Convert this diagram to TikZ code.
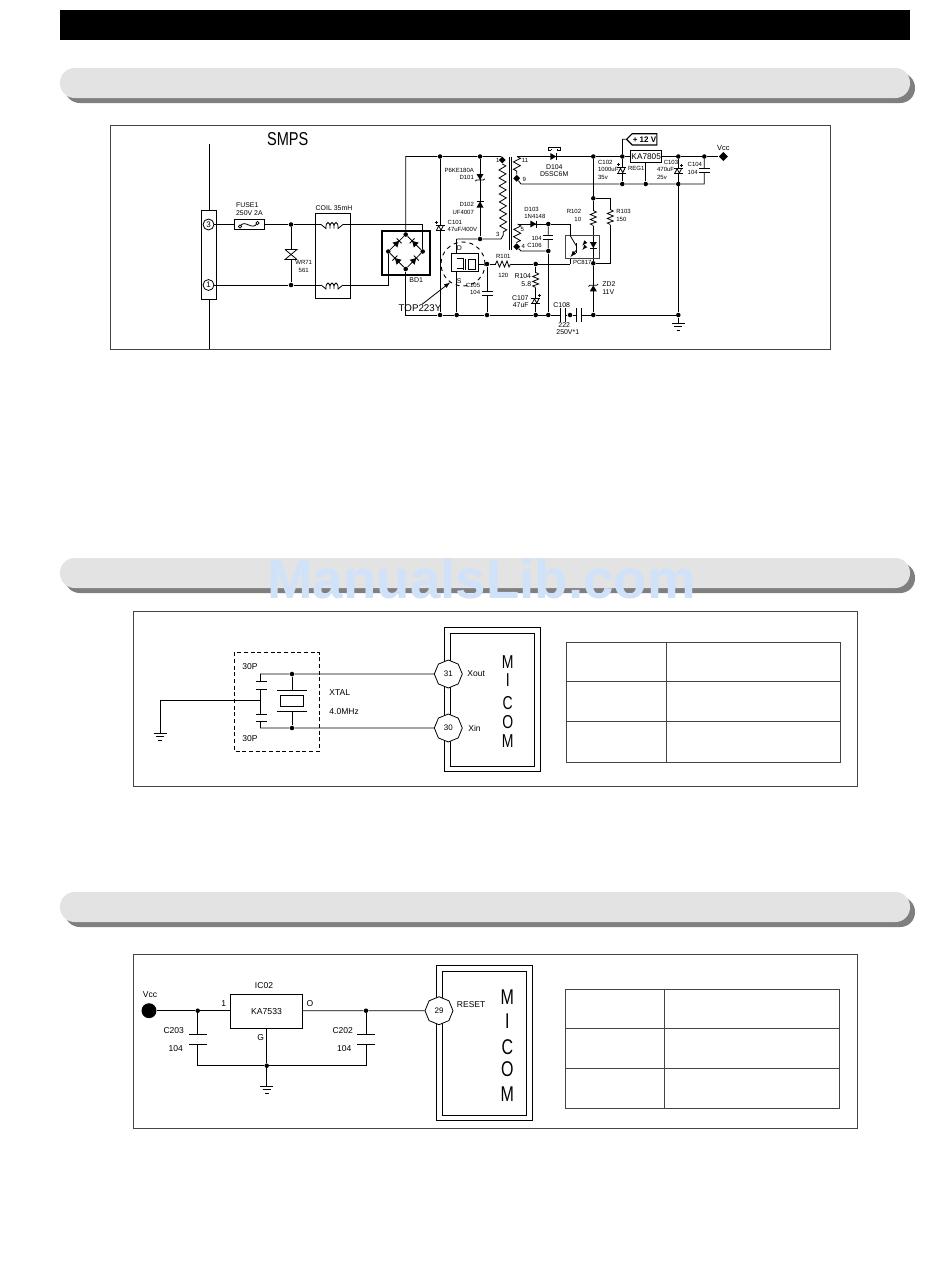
\documentclass[tikz,border=0pt]{standalone}
\usepackage{fontspec}
\setmainfont{Liberation Sans}
\usepackage{tikz}
\usetikzlibrary{shapes.geometric}
\usetikzlibrary{shapes.symbols}
\usetikzlibrary{decorations.pathmorphing}
\definecolor{wmark}{HTML}{CFE2FA}
\definecolor{pillgray}{HTML}{E3E3E3}
\definecolor{pilldark}{HTML}{7F7F7F}
\definecolor{linegray}{HTML}{444444}

\begin{document}
\begin{tikzpicture}
    [
    x=0.75pt,y=-0.75pt,
    line width=0.6pt,
    point/.style={circle,fill,inner sep=0pt,minimum size=3.4pt},
    pin/.style={diamond,fill,inner sep=0pt,minimum size=5.4pt},
    txt/.style={font=\fontsize{5.2}{5.5}\selectfont,inner sep=0pt,align=left},
    txtr/.style={font=\fontsize{5.2}{5.5}\selectfont,inner sep=0pt,align=right,anchor=east},
    fine/.style={font=\fontsize{4.5}{5.5}\selectfont},
    lbl/.style={font=\fontsize{6.4}{8}\selectfont,inner sep=0pt},
    micom/.style={font=\fontsize{#1}{#1}\selectfont,inner sep=0pt,xscale=0.75},
    octa/.style={regular polygon,regular polygon sides=8,shape border rotate=22.5,draw,fill=white,inner sep=0pt,minimum size=21pt,font=\fontsize{6}{7}\selectfont},
    pill/.style={rectangle,rounded corners=11pt,fill=pillgray,minimum width=637.5pt,minimum height=22.5pt,inner sep=0pt},
    pillshadow/.style={rectangle,rounded corners=11pt,fill=pilldark,minimum width=637.5pt,minimum height=22.5pt,inner sep=0pt},
    frameline/.style={draw=linegray,line width=0.6pt},
    terminal/.style={circle,draw,fill=white,inner sep=0pt,minimum size=8.2pt,font=\fontsize{6}{7}\selectfont},
    pics/vcap/.style n args={2}{code={
      \fill [white] (-#1,-#2) rectangle (#1,#2);
      \draw (-#1,-#2) -- (#1,-#2) (-#1,#2) -- (#1,#2);
    }},
    pics/pcap/.style={code={
      \fill [white] (-4.5,-2.6) rectangle (4.5,2.6);
      \draw [line width=0.8pt] (-4.5,-2.6) -- (4.5,-2.6) (-4.5,2.6) -- (4.5,2.6);
      \draw (-3.5,2.2) -- (-1.2,-2.2) -- (1,2.2) -- (3.2,-2.2);
      \draw ({#1-1.5},-6) -- ({#1+1.5},-6) (#1,-7.5) -- (#1,-4.5);
    }},
    pics/vres/.style={code={
      \fill [white] (-4,-7.5) rectangle (4,7.5);
      \draw (0,-7.5) -- (3,-6) -- (-3,-3.5) -- (3,-1) -- (-3,1.5) -- (3,4) -- (-3,6) -- (0,7.5);
    }},
    pics/diode/.style={code={
      \fill (-3,-3.5) -- (-3,3.5) -- (3,0) -- cycle;
      \draw (3,-3.5) -- (3,3.5);
    }},
    pics/zener/.style={code={
      \fill (-3,-3.5) -- (-3,3.5) -- (3,0) -- cycle;
      \draw (1.8,-4.8) -- (3,-3.5) -- (3,3.5) -- (4.2,4.8);
    }},
    pics/varistor/.style={code={
      \fill [white] (-6,-5) rectangle (6,5);
      \draw (-6,-5) -- (6,-5) -- (-6,5) -- (6,5);
      \draw (-6,-5) -- (6,5);
    }},
    pics/choke/.style={code={
      \fill [white] (-11,-5) rectangle (11,5);
      \draw (-11,0) -- (-6,4) .. controls (-6.5,-4) and (-1.5,-4) .. (-2,4) .. controls (-2.5,-4) and (2.5,-4) .. (2,4) .. controls (1.5,-4) and (6.5,-4) .. (6,4) -- (11,0);
    }},
    pics/gnd/.style={code={
      \draw (-6.5,0) -- (6.5,0) (-4,3.5) -- (4,3.5) (-1.8,7) -- (1.8,7);
    }}
    ]
    \useasboundingbox (0,0) rectangle (950,1267);

    \fill (60,10) rectangle (910,40);
    \node (s1) at (490,88) [pillshadow] {};
    \node (p1) at (485,83) [pill] {};
    \node (s2) at (490,578) [pillshadow] {};
    \node (p2) at (485,573) [pill] {};
    \node (s3) at (490,912) [pillshadow] {};
    \node (p3) at (485,907) [pill] {};

    \draw [frameline] (110,125) rectangle (830,349);
    \draw [frameline] (133,611) rectangle (857,786);
    \draw [frameline] (133,954) rectangle (857,1128);

    \node (smps) at (287.7,139.5) [inner sep=0pt,font=\fontsize{14}{15}\selectfont,xscale=0.78] {SMPS};
    \draw (209,144) -- (209,349);
    \node (conn) at (209,255) [rectangle,draw,fill=white,line width=1.1pt,minimum width=11.5pt,minimum height=67pt,inner sep=0pt] {};
    \node (cn3) at (208.5,224.5) [terminal] {3};
    \node (cn1) at (208.5,285) [terminal] {1};
    \node (fuse) at (249.5,224.5) [rectangle,draw,fill=white,line width=0.8pt,minimum width=23pt,minimum height=7.5pt,inner sep=0pt] {};
    \draw (240,226.5) .. controls (245,218) and (252,232) .. (257.5,223);
    \draw [fill=white] (240,226.5) circle (1.6) (257.5,223) circle (1.6);
    \node (w1) at (291,224.5) [point] {};
    \node (w2) at (291,285) [point] {};
    \node (coilbox) at (333,255.8) [rectangle,draw,minimum width=26pt,minimum height=63.8pt,inner sep=0pt] {};
    \node (bridge) at (405.8,253.2) [rectangle,draw,line width=1.3pt,minimum width=36pt,minimum height=33pt,inner sep=0pt] {};
    \node (bt) at (405.7,234.5) [point] {};
    \node (bl) at (388.3,251.5) [point] {};
    \node (brr) at (422.7,251.5) [point] {};
    \node (bb) at (405.7,269) [point] {};
    \coordinate (k1) at (422.7,224.5);
    \coordinate (k2) at (388.3,285);
    \coordinate (k3) at (405.7,156.5);
    \coordinate (k4) at (405.7,315);
    \draw (cn3) -- (fuse) -- (w1) -- (k1) -- (brr);
    \draw (cn1) -- (w2) -- (k2) -- (bl);
    \draw (w1) -- (w2);
    \draw (bt) -- (bl) -- (bb) -- (brr) -- (bt);
    \pic at (291,254.5) {varistor};
    \pic at (332,224.5) {choke};
    \pic at (332,285) {choke};
    \pic [rotate=45] at (397,243) {diode};
    \pic [rotate=135] at (414.2,243) {diode};
    \pic [rotate=135] at (397,260.2) {diode};
    \pic [rotate=45] at (414.2,260.2) {diode};

    \node (t1) at (440,156.5) [point] {};
    \node (t2) at (480,156.5) [point] {};
    \coordinate (k5) at (501,156.5);
    \node (n1) at (502.3,160) [pin] {};
    \node (m1) at (480,239) [point] {};
    \coordinate (m2) at (456.7,239);
    \coordinate (k6) at (501,239);
    \coordinate (n3) at (503.3,235);
    \node (b1) at (440,315) [point] {};
    \node (b2) at (456.7,315) [point] {};
    \node (b3) at (487,315) [point] {};
    \node (b4) at (535.7,315) [point] {};
    \node (b5) at (548.3,315) [point] {};
    \node (b6) at (570,315) [point] {};
    \node (b7) at (593.3,315) [point] {};
    \node (b8) at (678.3,315) [point] {};
    \coordinate (g1) at (678.3,323);
    \node (top) at (463,264) [circle,draw,dashed,line width=0.7pt,minimum size=33pt,inner sep=0pt] {};
    \node (ic) at (464.7,262.5) [rectangle,draw,minimum width=20.5pt,minimum height=13.8pt,inner sep=0pt] {};
    \node (dr) at (487,264) [point] {};
    \node (j1) at (535.7,264) [point] {};
    \coordinate (e1) at (570,264);
    \draw (bt) -- (k3) -- (t1) -- (t2) -- (k5) -- (n1);
    \draw (bb) -- (k4) -- (b1) -- (b2) -- (b3) -- (b4) -- (b5) -- (b6) -- (b7) -- (b8) -- (g1);
    \draw (t1) -- (b1);
    \draw (t2) -- (m1);
    \draw (m2) -- (m1) -- (k6) -- (n3);
    \draw (m2) -- (m2 |- ic.north);
    \draw (m2 |- ic.south) -- (b2);
    \draw (ic.east |- dr) -- (dr) -- (j1) -- (e1);
    \draw (dr) -- (b3);
    \draw (j1) -- (b4);
    \draw (456.7,258) -- (463,258);
    \draw (456.7,268) -- (463,268);
    \draw (463,258) -- (463,270);
    \draw (465.5,258.5) -- (465.5,270);
    \draw (468.3,259.3) rectangle (475.7,269);
    \pic at (440,228) {pcap=-4};
    \pic [rotate=-90] at (480,177) {zener};
    \pic [rotate=90] at (480,204.5) {diode};
    \pic at (487,293) {vcap={5.5}{2}};
    \pic [rotate=90] at (503,264) {vres};
    \pic at (535.7,280) {vres};
    \pic at (535.7,301) {pcap=4};
    \pic [rotate=90] at (562.7,315) {vcap={7}{2.6}};
    \pic [rotate=90] at (579,315) {vcap={7}{2.3}};
    \pic at (g1) {gnd};

    \draw [line width=0.7pt] (509,156.7) -- (509,250) (511.7,156.7) -- (511.7,250);
    \draw [decorate,decoration={zigzag,segment length=6pt,amplitude=2.6pt}] (n1) -- (n3);
    \coordinate (v0) at (517,156.5);
    \node (s9) at (516.7,178.3) [pin] {};
    \coordinate (k7) at (521,184);
    \node (v1) at (593.3,156.5) [point] {};
    \node (v2) at (622.3,156.5) [point] {};
    \node (reg) at (646.2,156.5) [rectangle,draw,fill=white,line width=0.7pt,minimum width=23.3pt,minimum height=8.5pt,inner sep=0pt,font=\fontsize{6.2}{7}\selectfont] {KA7805};
    \node (v3) at (678.3,156.5) [point] {};
    \node (v4) at (704.3,156.5) [point] {};
    \node (vcc) at (723.3,156.5) [pin,minimum size=7pt] {};
    \node (u1) at (622.3,184) [point] {};
    \node (u2) at (645.7,184) [point] {};
    \node (u3) at (678.3,184) [point] {};
    \coordinate (k8) at (704.3,184);
    \coordinate (k9) at (622.3,139.3);
    \node (tag) at (644.5,139.3) [signal,signal to=west,signal pointer angle=90,draw,line width=0.9pt,inner sep=0.5pt,minimum width=22pt,minimum height=8.4pt,font=\bfseries\fontsize{6}{7}\selectfont] {+ 12 V};
    \draw (v0) -- (v1) -- (v2) -- (reg) -- (v3) -- (v4) -- (vcc);
    \draw [decorate,decoration={zigzag,segment length=5.5pt,amplitude=2.6pt}] (v0) -- (s9);
    \draw (s9) -- (k7) -- (u1) -- (u2) -- (u3) -- (k8) -- (v4);
    \draw (k9) -- (v2) -- (u1);
    \draw (k9) -- (tag);
    \draw (reg.south -| u2) -- (u2);
    \draw (v3) -- (b8);
    \pic at (553.3,156.5) {diode};
    \draw (548,150) -- (548,147.5) -- (560,147.5) -- (560,150) -- (557,150) -- (557,148.5) (551,150) -- (548,150) (551,150) -- (551,148.5);
    \pic at (621.7,170.5) {pcap=-3};
    \pic at (678.3,171) {pcap=3.5};
    \pic at (704.3,170) {vcap={5.5}{2}};

    \node (k10) at (593.3,198.3) [point] {};
    \node (k11) at (593.3,263.3) [point] {};
    \coordinate (k12) at (610.3,198.3);
    \coordinate (k13) at (610.3,263.3);
    \draw (v1) -- (k10) -- (k11) -- (b7);
    \draw (k10) -- (k12) -- (k13) -- (k11);
    \pic at (593.3,218) {vres};
    \pic at (610.3,217) {vres};
    \pic [rotate=-90] at (593.3,245) {diode};
    \pic [rotate=90] at (593.3,288.3) {zener};
    \node (opto) at (582.5,247) [rectangle,draw=linegray,minimum width=25.2pt,minimum height=17pt,inner sep=0pt] {};
    \draw (e1) -- (e1 |- opto.south);
    \draw (576,243) -- (576,253);
    \draw (e1 |- opto.north) -- (576,245.5);
    \draw [-latex] (576,250.5) -- (570.5,257);
    \draw [-latex,line width=0.4pt] (585.7,241.7) -- (582.3,245.7);
    \draw [-latex,line width=0.4pt] (585.7,246) -- (582.3,250);

    \coordinate (s5) at (517.5,224);
    \node (d4) at (516.7,246.7) [pin] {};
    \coordinate (k14) at (521,251);
    \node (c1) at (548.3,224) [point] {};
    \node (c2) at (548.3,251) [point] {};
    \draw [decorate,decoration={zigzag,segment length=5.5pt,amplitude=2.6pt}] (s5) -- (d4);
    \draw (s5) -- (c1) -- (e1 |- c1) -- (e1 |- opto.north);
    \draw (d4) -- (k14) -- (c2) -- (c1);
    \draw (c2) -- (b5);
    \pic at (533.3,224) {diode};
    \pic at (548.3,237.7) {vcap={5}{2}};

    \node (lf) at (235.7,209.2) [txt,anchor=west] {FUSE1\\250V 2A};
    \node (lc) at (315.3,207.7) [txt,anchor=west] {COIL 35mH};
    \node (lw) at (295,266.5) [txt,fine,anchor=west,align=center] {WR71\\561};
    \node (lbd) at (409,280) [txt,anchor=west] {BD1};
    \node (ld1) at (474.3,174.2) [txtr,fine] {P6KE180A\\D101};
    \node (ld2) at (474.3,208.5) [txtr,fine] {D102\\UF4007};
    \node (lc1) at (447.3,226) [txt,fine,anchor=west] {C101\\47uF/400V};
    \node (lcd) at (459.3,248.3) [txt] {D};
    \node (lcs) at (459.3,280.7) [txt] {S};
    \node (lc5) at (480.5,289.2) [txtr,fine] {C105\\104};
    \node (ltop) at (420,308) [lbl,font=\fontsize{7.3}{8}\selectfont] {TOP223Y};
    \draw [-latex] (ltop.60) -- (top.235);
    \node (ln1) at (497.7,160) [txt,fine] {1};
    \node (ln3) at (497.7,234.5) [txt,fine] {3};
    \node (ln11) at (525,160.5) [txt,fine] {11};
    \node (ln9) at (524.3,179) [txt,fine] {9};
    \node (ln5) at (522.3,229) [txt,fine] {5};
    \node (ln4) at (523.3,246.7) [txt,fine] {4};
    \node (ld4) at (554.3,170.4) [txt,align=center] {D104\\D5SC6M};
    \node (ld3) at (524,212.6) [txt,fine,anchor=west] {D103\\1N4148};
    \node (lc6) at (542,241.7) [txtr,fine] {104\\C106};
    \node (lr1) at (503.3,256.7) [txt,fine] {R101};
    \node (lr1b) at (503.3,275) [txt,fine] {120};
    \node (lr4) at (531.5,280) [txtr] {R104\\5.8};
    \node (lc7) at (529,301.5) [txtr] {C107\\47uF};
    \node (lc8a) at (561.7,305.5) [txt] {C108};
    \node (lc8b) at (556,328.5) [txt,anchor=west] {\hspace*{1.5pt}222\\250V*1};
    \node (lc2) at (597.7,169.7) [txt,fine,anchor=west] {C102\\1000uF\\35v};
    \node (lreg) at (627.7,168.3) [txt,fine,anchor=west] {REG1};
    \node (lc3) at (656.7,169.7) [txt,fine,anchor=west] {\hspace*{5pt}C103\\470uF\\25v};
    \node (lc4) at (687.3,168.5) [txt,fine,anchor=west] {C104\\104};
    \node (lr2) at (581.5,215.3) [txtr,fine] {R102\\10};
    \node (lr3) at (616,215.3) [txt,fine,anchor=west] {R103\\150};
    \node (lpc) at (572.7,262) [txt,fine,anchor=west] {PC817};
    \node (lz) at (602,288.2) [txt,anchor=west] {ZD2\\11V};
    \node (lvcc) at (716.7,147.7) [txt,font=\fontsize{5.6}{6}\selectfont,anchor=west] {Vcc};

    \draw [line width=0.75pt] (444.3,627.3) rectangle (540.7,771.7);
    \draw [line width=0.75pt] (450.3,633.3) rectangle (534.7,766);
    \node (o31) at (448.3,674) [octa] {31};
    \node (o30) at (448.3,728) [octa] {30};
    \node (x1) at (292,674) [point] {};
    \node (x2) at (292,728) [point] {};
    \coordinate (a1) at (260,674);
    \coordinate (a2) at (260,728);
    \coordinate (a3) at (260,700);
    \coordinate (a4) at (160,700);
    \coordinate (g2) at (160,733);
    \draw [dash pattern=on 3pt off 2pt] (234.7,652.3) rectangle (319,751.3);
    \draw (a1) -- (x1) -- (o31);
    \draw (a2) -- (x2) -- (o30);
    \draw (a1) -- (a2);
    \draw (a3) -- (a4) -- (g2);
    \draw (x1) -- (x2);
    \pic at (261.5,685.5) {vcap={5.3}{3.8}};
    \pic at (261.5,717.5) {vcap={5.3}{3.5}};
    \pic at (292,700.7) {vcap={14.7}{10.7}};
    \node (xt) at (292,701) [rectangle,draw,fill=white,line width=0.7pt,minimum width=17.8pt,minimum height=8.8pt,inner sep=0pt] {};
    \pic at (g2) {gnd};
    \node (l30a) at (250,666.7) [lbl] {30P};
    \node (l30b) at (250,739) [lbl] {30P};
    \node (lx) at (329,692.7) [lbl,anchor=west] {XTAL};
    \node (lm) at (329,712) [lbl,anchor=west] {4.0MHz};
    \node (lxo) at (467,673.3) [lbl,anchor=west] {Xout};
    \node (lxi) at (468,728) [lbl,anchor=west] {Xin};
    \node (m1a) at (507.7,661.7) [micom=14] {M};
    \node (m1b) at (507.7,680.5) [micom=14] {I};
    \node (m1c) at (507.7,702.7) [micom=14] {C};
    \node (m1d) at (507.7,721.7) [micom=14] {O};
    \node (m1e) at (507.7,740.7) [micom=14] {M};
    \draw [frameline] (566,642) rectangle (840,762);
    \foreach \y in {681,721}
      \draw [frameline] (566,\y) -- (840,\y);
    \draw [frameline] (666,642) -- (666,762);

    \draw [line width=0.75pt] (436.7,965.7) rectangle (532,1120.7);
    \draw [line width=0.75pt] (442.3,971.7) rectangle (526.7,1115);
    \node (o29) at (439,1010.7) [octa] {29};
    \node (src) at (149,1010.7) [circle,fill,inner sep=0pt,minimum size=11.2pt] {};
    \node (lv2) at (150,995) [lbl] {Vcc};
    \node (ka) at (266.5,1011.3) [rectangle,draw,minimum width=53.7pt,minimum height=25.5pt,inner sep=0pt,font=\fontsize{6.5}{8}\selectfont] {KA7533};
    \node (y1) at (197.7,1010.7) [point] {};
    \node (y2) at (366,1010.7) [point] {};
    \node (y3) at (266.7,1065.7) [point] {};
    \coordinate (q1) at (197.7,1065.7);
    \coordinate (q2) at (366,1065.7);
    \coordinate (g3) at (266.7,1086);
    \draw (src) -- (y1) -- (ka.west |- y1);
    \draw (ka.east |- y2) -- (y2) -- (o29);
    \draw (y1) -- (q1) -- (y3) -- (q2) -- (y2);
    \draw (ka.south -| y3) -- (y3) -- (g3);
    \pic at (197.7,1039.3) {vcap={8.8}{5}};
    \pic at (366,1039.3) {vcap={8.8}{5}};
    \pic at (g3) {gnd};
    \node (lic) at (264,986) [lbl] {IC02};
    \node (l1) at (223.7,1003.3) [lbl] {1};
    \node (lo) at (310,1003.3) [lbl] {O};
    \node (lg) at (260.7,1037.7) [lbl] {G};
    \node (lc203) at (173.7,1031) [lbl] {C203};
    \node (l104a) at (175.7,1048.3) [lbl] {104};
    \node (lc202) at (342.7,1031) [lbl] {C202};
    \node (l104b) at (344.3,1048.3) [lbl] {104};
    \node (lrs) at (456.5,1005) [lbl,anchor=west] {RESET};
    \node (m2a) at (507.3,997.3) [micom=16] {M};
    \node (m2b) at (507.3,1020.7) [micom=16] {I};
    \node (m2c) at (507.3,1046.7) [micom=16] {C};
    \node (m2d) at (507.3,1069.3) [micom=16] {O};
    \node (m2e) at (507.3,1094) [micom=16] {M};
    \draw [frameline] (565,989) rectangle (839,1108);
    \foreach \y in {1028,1068}
      \draw [frameline] (565,\y) -- (839,\y);
    \draw [frameline] (664,989) -- (664,1108);

    \node (mark) at (481.5,598.5) [anchor=base,inner sep=0pt,text=wmark,font=\bfseries\fontsize{41}{41}\selectfont] {ManualsLib.com};
  \end{tikzpicture}
\end{document}
